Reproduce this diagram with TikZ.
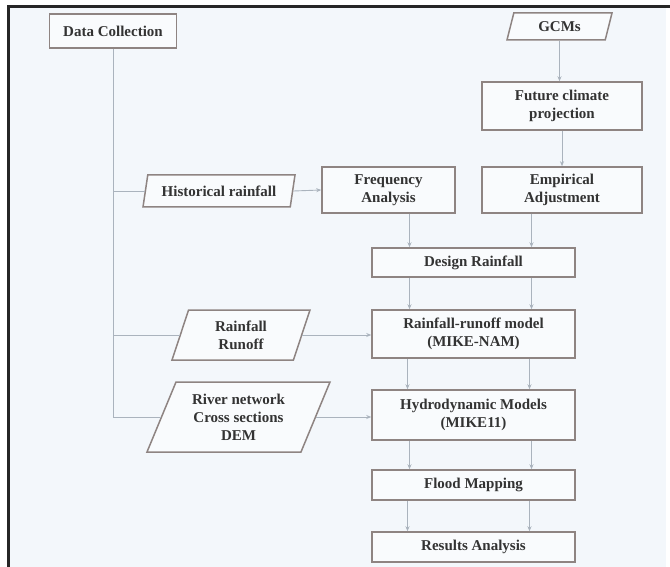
\documentclass[tikz,border=0pt]{standalone}
\usepackage{fontspec}
\setmainfont{Liberation Serif}
\usetikzlibrary{shapes.geometric,arrows.meta}
\definecolor{pagebg}{HTML}{F3F7FB}
\definecolor{boxline}{HTML}{8E8482}
\definecolor{flowline}{HTML}{AAB3BD}
\definecolor{boxtext}{HTML}{333333}
\begin{document}
\begin{tikzpicture}[x=1pt,y=-1pt,
  box/.style={draw=boxline,line width=1.5pt,fill=pagebg!50!white,text=boxtext,align=center,inner sep=0pt,font=\fontsize{15}{18}\selectfont\bfseries},
  datain/.style={box,trapezium,trapezium left angle=60,trapezium right angle=120,trapezium stretches body},
  link/.style={draw=flowline,line width=0.9pt},
  flow/.style={link,-{Stealth[length=5pt,width=4pt]}}]
\useasboundingbox (0,0) rectangle (670,567);
\fill[white] (0,0) rectangle (670,567);
\fill[pagebg] (8,7) rectangle (666,567);
\draw[line width=3pt,black!85] (8,567) -- (8,7) -- (670,7);
\node[box,minimum width=127,minimum height=34] (dc) at (113,31) {Data Collection};
\node[datain,minimum width=105,minimum height=27,trapezium left angle=56,trapezium right angle=124] (gcm) at (559.5,26.5) {GCMs};
\node[box,minimum width=160,minimum height=48] (fut) at (562,106) {Future climate\\projection};
\node[datain,minimum width=152,minimum height=32,trapezium left angle=66,trapezium right angle=114] (hist) at (219,191) {Historical rainfall};
\node[box,minimum width=133,minimum height=46] (freq) at (388.5,190) {Frequency\\Analysis};
\node[box,minimum width=160,minimum height=46] (emp) at (562,190) {Empirical\\Adjustment};
\node[box,minimum width=203,minimum height=29] (des) at (473.5,262.5) {Design Rainfall};
\node[datain,minimum width=138,minimum height=50] (rr) at (241,335) {Rainfall\\Runoff};
\node[box,minimum width=203,minimum height=48] (nam) at (473.5,334) {Rainfall-runoff model\\(MIKE-NAM)};
\node[datain,minimum width=183,minimum height=70,trapezium left angle=58,trapezium right angle=122] (riv) at (238.5,417) {River network\\Cross sections\\DEM};
\node[box,minimum width=203,minimum height=50] (hyd) at (473.5,415) {Hydrodynamic Models\\(MIKE11)};
\node[box,minimum width=203,minimum height=30] (flood) at (473.5,485) {Flood Mapping};
\node[box,minimum width=203,minimum height=30] (res) at (473.5,547) {Results Analysis};
\draw[link] (dc.south) |- (riv.west);
\draw[link] (dc.south |- hist.west) -- (hist.west);
\draw[link] (dc.south |- rr.west) -- (rr.west);
\draw[flow] (hist.east) -- (freq.west);
\draw[flow] (rr.east) -- (rr.east -| nam.west);
\draw[flow] (riv.east) -- (riv.east -| hyd.west);
\draw[flow] (gcm.south) -- (gcm.south |- fut.north);
\draw[flow] (fut.south) -- (emp.north);
\draw[flow] ([xshift=-64pt]des.north |- freq.south) -- ([xshift=-64pt]des.north);
\draw[flow] ([xshift=58pt]des.north |- emp.south) -- ([xshift=58pt]des.north);
\draw[flow] ([xshift=-64pt]des.south) -- ([xshift=-64pt]nam.north);
\draw[flow] ([xshift=58pt]des.south) -- ([xshift=58pt]nam.north);
\draw[flow] ([xshift=-66pt]nam.south) -- ([xshift=-66pt]hyd.north);
\draw[flow] ([xshift=56pt]nam.south) -- ([xshift=56pt]hyd.north);
\draw[flow] ([xshift=-64pt]hyd.south) -- ([xshift=-64pt]flood.north);
\draw[flow] ([xshift=58pt]hyd.south) -- ([xshift=58pt]flood.north);
\draw[flow] ([xshift=-66pt]flood.south) -- ([xshift=-66pt]res.north);
\draw[flow] ([xshift=56pt]flood.south) -- ([xshift=56pt]res.north);
\end{tikzpicture}
\end{document}
